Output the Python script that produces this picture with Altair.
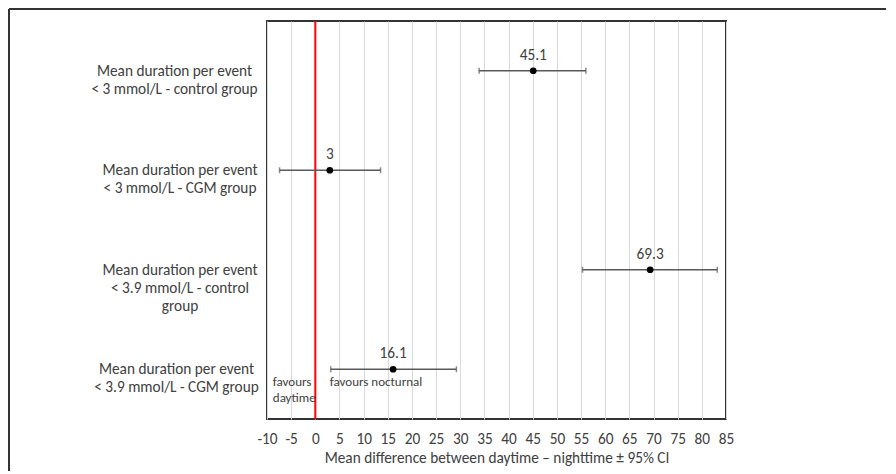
import altair as alt
import pandas as pd

# ---- data ----
categories = [
    "Mean duration per event\n< 3 mmol/L - control group",
    "Mean duration per event\n< 3 mmol/L - CGM group",
    "Mean duration per event\n< 3.9 mmol/L - control\ngroup",
    "Mean duration per event\n< 3.9 mmol/L - CGM group",
]
means = [45.1, 3.0, 69.3, 16.1]
lower = [33.9, -7.4, 55.3, 3.2]
upper = [56.0, 13.5, 83.2, 29.2]
mean_labels = ["45.1", "3", "69.3", "16.1"]
x_ticks = [-10, -5, 0, 5, 10, 15, 20, 25, 30, 35, 40, 45, 50, 55, 60, 65, 70, 75, 80, 85]
x_domain = [-10, 85]
note_texts = ["favours\ndaytime", "favours nocturnal"]
note_x = [-8.8, 3.0]
ref_line = [0]

FONT = "Carlito, Lato"
TXT = "#404040"
FS = 15.3

df = pd.DataFrame({"cat": categories, "mean": means, "lo": lower, "hi": upper, "lab": mean_labels})
notes = pd.DataFrame({"cat": [categories[3]] * len(note_texts), "x": note_x, "text": note_texts})
ref = pd.DataFrame({"x": ref_line})
one = pd.DataFrame({"a": [0]})

x_scale = alt.Scale(domain=x_domain, nice=False, zero=False)
x_axis = alt.Axis(
    values=x_ticks, title="Mean difference between daytime \u2013 nighttime \u00b1 95% CI",
    labelExpr="toString(datum.value)",
    grid=True, gridColor="#d9d9d9", gridWidth=1, domain=False, ticks=False,
    labelFont=FONT, labelFontSize=FS, labelColor=TXT, labelPadding=12,
    labelFlush=False, labelOverlap=False,
    titleFont=FONT, titleFontSize=FS, titleColor=TXT, titleFontWeight="normal", titlePadding=4,
)
y_axis = alt.Axis(
    title=None, labelExpr="split(datum.label, '\\n')", labelAlign="center", labelBaseline="middle",
    labelPadding={
        "condition": [
            {"test": "indexof(datum.value, 'control group') >= 0", "value": 93},
            {"test": "indexof(datum.value, 'CGM group') >= 0 && indexof(datum.value, '3.9') >= 0", "value": 91},
        ],
        "value": 87.5,
    },
    labelFont=FONT, labelFontSize=FS, labelLineHeight=18, labelColor=TXT, labelLimit=0,
    domain=False, ticks=False, tickSize=0, grid=False,
)


def xq(field):
    return alt.X(field, type="quantitative", scale=x_scale, axis=x_axis)


def yc():
    return alt.Y("cat:N", sort=categories, axis=y_axis)


base = alt.Chart(df)

zero_line = alt.Chart(ref).mark_rule(color="#ff0000", strokeWidth=2).encode(x=xq("x"))
bars = base.mark_rule(color="#595959", strokeWidth=1.5).encode(x=xq("lo"), x2="hi:Q", y=yc())
cap_lo = base.mark_tick(color="#595959", size=6, thickness=1.5, orient="vertical").encode(
    x=xq("lo"), y=yc()
)
cap_hi = base.mark_tick(color="#595959", size=6, thickness=1.5, orient="vertical").encode(
    x=xq("hi"), y=yc()
)
points = base.mark_circle(color="#000000", size=45, opacity=1).encode(x=xq("mean"), y=yc())
labels = base.mark_text(font=FONT, fontSize=FS, color=TXT, dy=-16, baseline="middle").encode(
    x=xq("mean"), y=yc(), text="lab:N"
)
note_marks = alt.Chart(notes).mark_text(
    font=FONT, fontSize=13, color=TXT, align="left", baseline="top", dy=7, lineBreak="\n", lineHeight=16
).encode(x=xq("x"), y=yc(), text="text:N")
frame_top = alt.Chart(one).mark_rule(color="#333333", strokeWidth=2).encode(
    x=alt.value(-258), x2=alt.value(700), y=alt.value(-12)
)
frame_left = alt.Chart(one).mark_rule(color="#333333", strokeWidth=2).encode(
    x=alt.value(-258), y=alt.value(-12), y2=alt.value(500)
)

chart = alt.layer(
    zero_line, bars, cap_lo, cap_hi, points, labels, note_marks, frame_top, frame_left
).properties(
    width=459, height=398,
    autosize=alt.AutoSizeParams(type="none"),
    padding={"left": 259, "top": 13, "right": 160, "bottom": 52},
    background="white",
).configure_view(stroke="#333333", strokeWidth=2)

chart.save("out.html", embed_options={"renderer": "svg", "actions": False})
